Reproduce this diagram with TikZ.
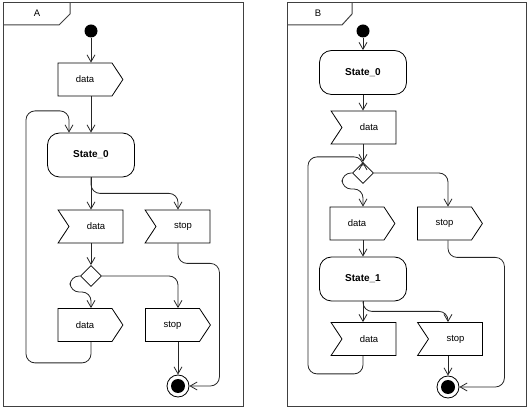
\documentclass[tikz,border=0pt]{standalone}
\usepackage{fontspec}
\setmainfont{Liberation Sans}
\usetikzlibrary{shapes.symbols,shapes.geometric,arrows.meta}
\tikzset{
  sig/.style={signal,draw,minimum height=33pt,inner sep=0pt,text width=54pt,align=center,signal pointer angle=113},
  send/.style={sig,signal to=east},
  recv/.style={sig,signal to=nowhere,signal from=west},
  state/.style={draw,rectangle,rounded corners=12pt,minimum width=87pt,minimum height=44pt,font=\bfseries},
  dec/.style={draw,diamond,minimum size=21pt,inner sep=0pt},
  ini/.style={circle,fill=black,minimum size=13pt,inner sep=0pt},
  fin/.style={circle,draw,fill=white,minimum size=22pt,inner sep=0pt,
    path picture={\fill[black] (path picture bounding box.center) circle (7pt);}},
  flow/.style={-{Straight Barb[length=7pt,width=8pt]},draw=black!85,rounded corners=9pt},
  frame/.style={draw=black!75,line width=1pt}
}
\begin{document}
\begin{tikzpicture}[x=1pt,y=1pt,font=\fontsize{9.5}{11}\selectfont,line width=0.8pt]
\useasboundingbox (0,0) rectangle (530,-411);
% frame A
\draw[frame] (3,-3) rectangle (243,-406);
\draw[frame] (3,-25) -- (59,-25) -- (70,-14) -- (70,-3);
\node (tA) at (37,-13) {A};
\node[ini] (iA) at (91,-31) {};
\node[send] (d1A) at (85,-79.5) {data};
\node[state] (s0A) at (91,-155) {State\_0};
\node[recv] (d2A) at (96,-226.5) {data};
\node[recv,right of=d2A,node distance=87pt] (st1A) {stop};
\node[dec] (cA) at (91,-276) {};
\node[send] (d3A) at (85,-325) {data};
\node[send,right of=d3A,node distance=87.5pt] (st2A) {stop};
\node[fin] (fA) at (178,-386) {};
\draw[flow] (iA) -- (iA |- d1A.north);
\draw[flow] (iA |- d1A.south) -- (s0A);
\draw[flow] (s0A.south) -- (s0A.south |- d2A.north);
\draw[flow] (s0A.south) -- ++(0,-16) -| (fA |- st1A.north);
\draw[flow] (s0A |- d2A.south) -- (cA);
\draw[flow] (cA.west) -- ++(-10,0) -- ++(0,-16) -| (s0A |- d3A.north);
\draw[flow] (cA.east) -| (fA |- st2A.north);
\draw[flow] (s0A |- d3A.south) -- ++(0,-21) -- ++(-65,0) -- ++(0,252) -- ++(43,0) -- ([xshift=-22pt]s0A.north);
\draw[flow] (fA |- st2A.south) -- (fA);
\draw[flow] (fA |- st1A.south) -- ++(0,-20) -| ([xshift=30pt]fA.east) -- (fA.east);
% frame B
\draw[frame] (287,-3) rectangle (526,-406);
\draw[frame] (287,-25) -- (342,-25) -- (352,-14) -- (352,-3);
\node (tB) at (318,-13) {B};
\node[ini] (iB) at (363,-31) {};
\node[state] (s0B) at (363,-72.5) {State\_0};
\node[recv] (d1B) at (369,-127.5) {data};
\node[dec] (cB) at (363,-173) {};
\node[send] (d2B) at (357,-223.5) {data};
\node[send,right of=d2B,node distance=87.5pt] (st1B) {stop};
\node[state] (s1B) at (363,-279) {State\_1};
\node[recv] (d3B) at (369,-339) {data};
\node[recv,right of=d3B,node distance=86.5pt] (st2B) {stop};
\node[fin] (fB) at (448,-387) {};
\draw[flow] (iB) -- (s0B);
\draw[flow] (s0B.south) -- (s0B.south |- d1B.north);
\draw[flow] (s0B |- d1B.south) -- (cB);
\draw[flow] (cB.west) -- ++(-10,0) -- ++(0,-16) -| (s0B |- d2B.north);
\draw[flow] (cB.east) -| (fB |- st1B.north);
\draw[flow] (s0B |- d2B.south) -- (s1B);
\draw[flow] (s1B.south) -- (s1B.south |- d3B.north);
\draw[flow] (s1B.south) -- ++(0,-10) -| (fB |- st2B.north);
\draw[flow] (s1B |- d3B.south) -- ++(0,-18) -- ++(-55,0) -- ++(0,217) -| (cB.north);
\draw[flow] (fB |- st2B.south) -- (fB);
\draw[flow] (fB |- st1B.south) -- ++(0,-17) -| ([xshift=45pt]fB.east) -- (fB.east);
\end{tikzpicture}
\end{document}
